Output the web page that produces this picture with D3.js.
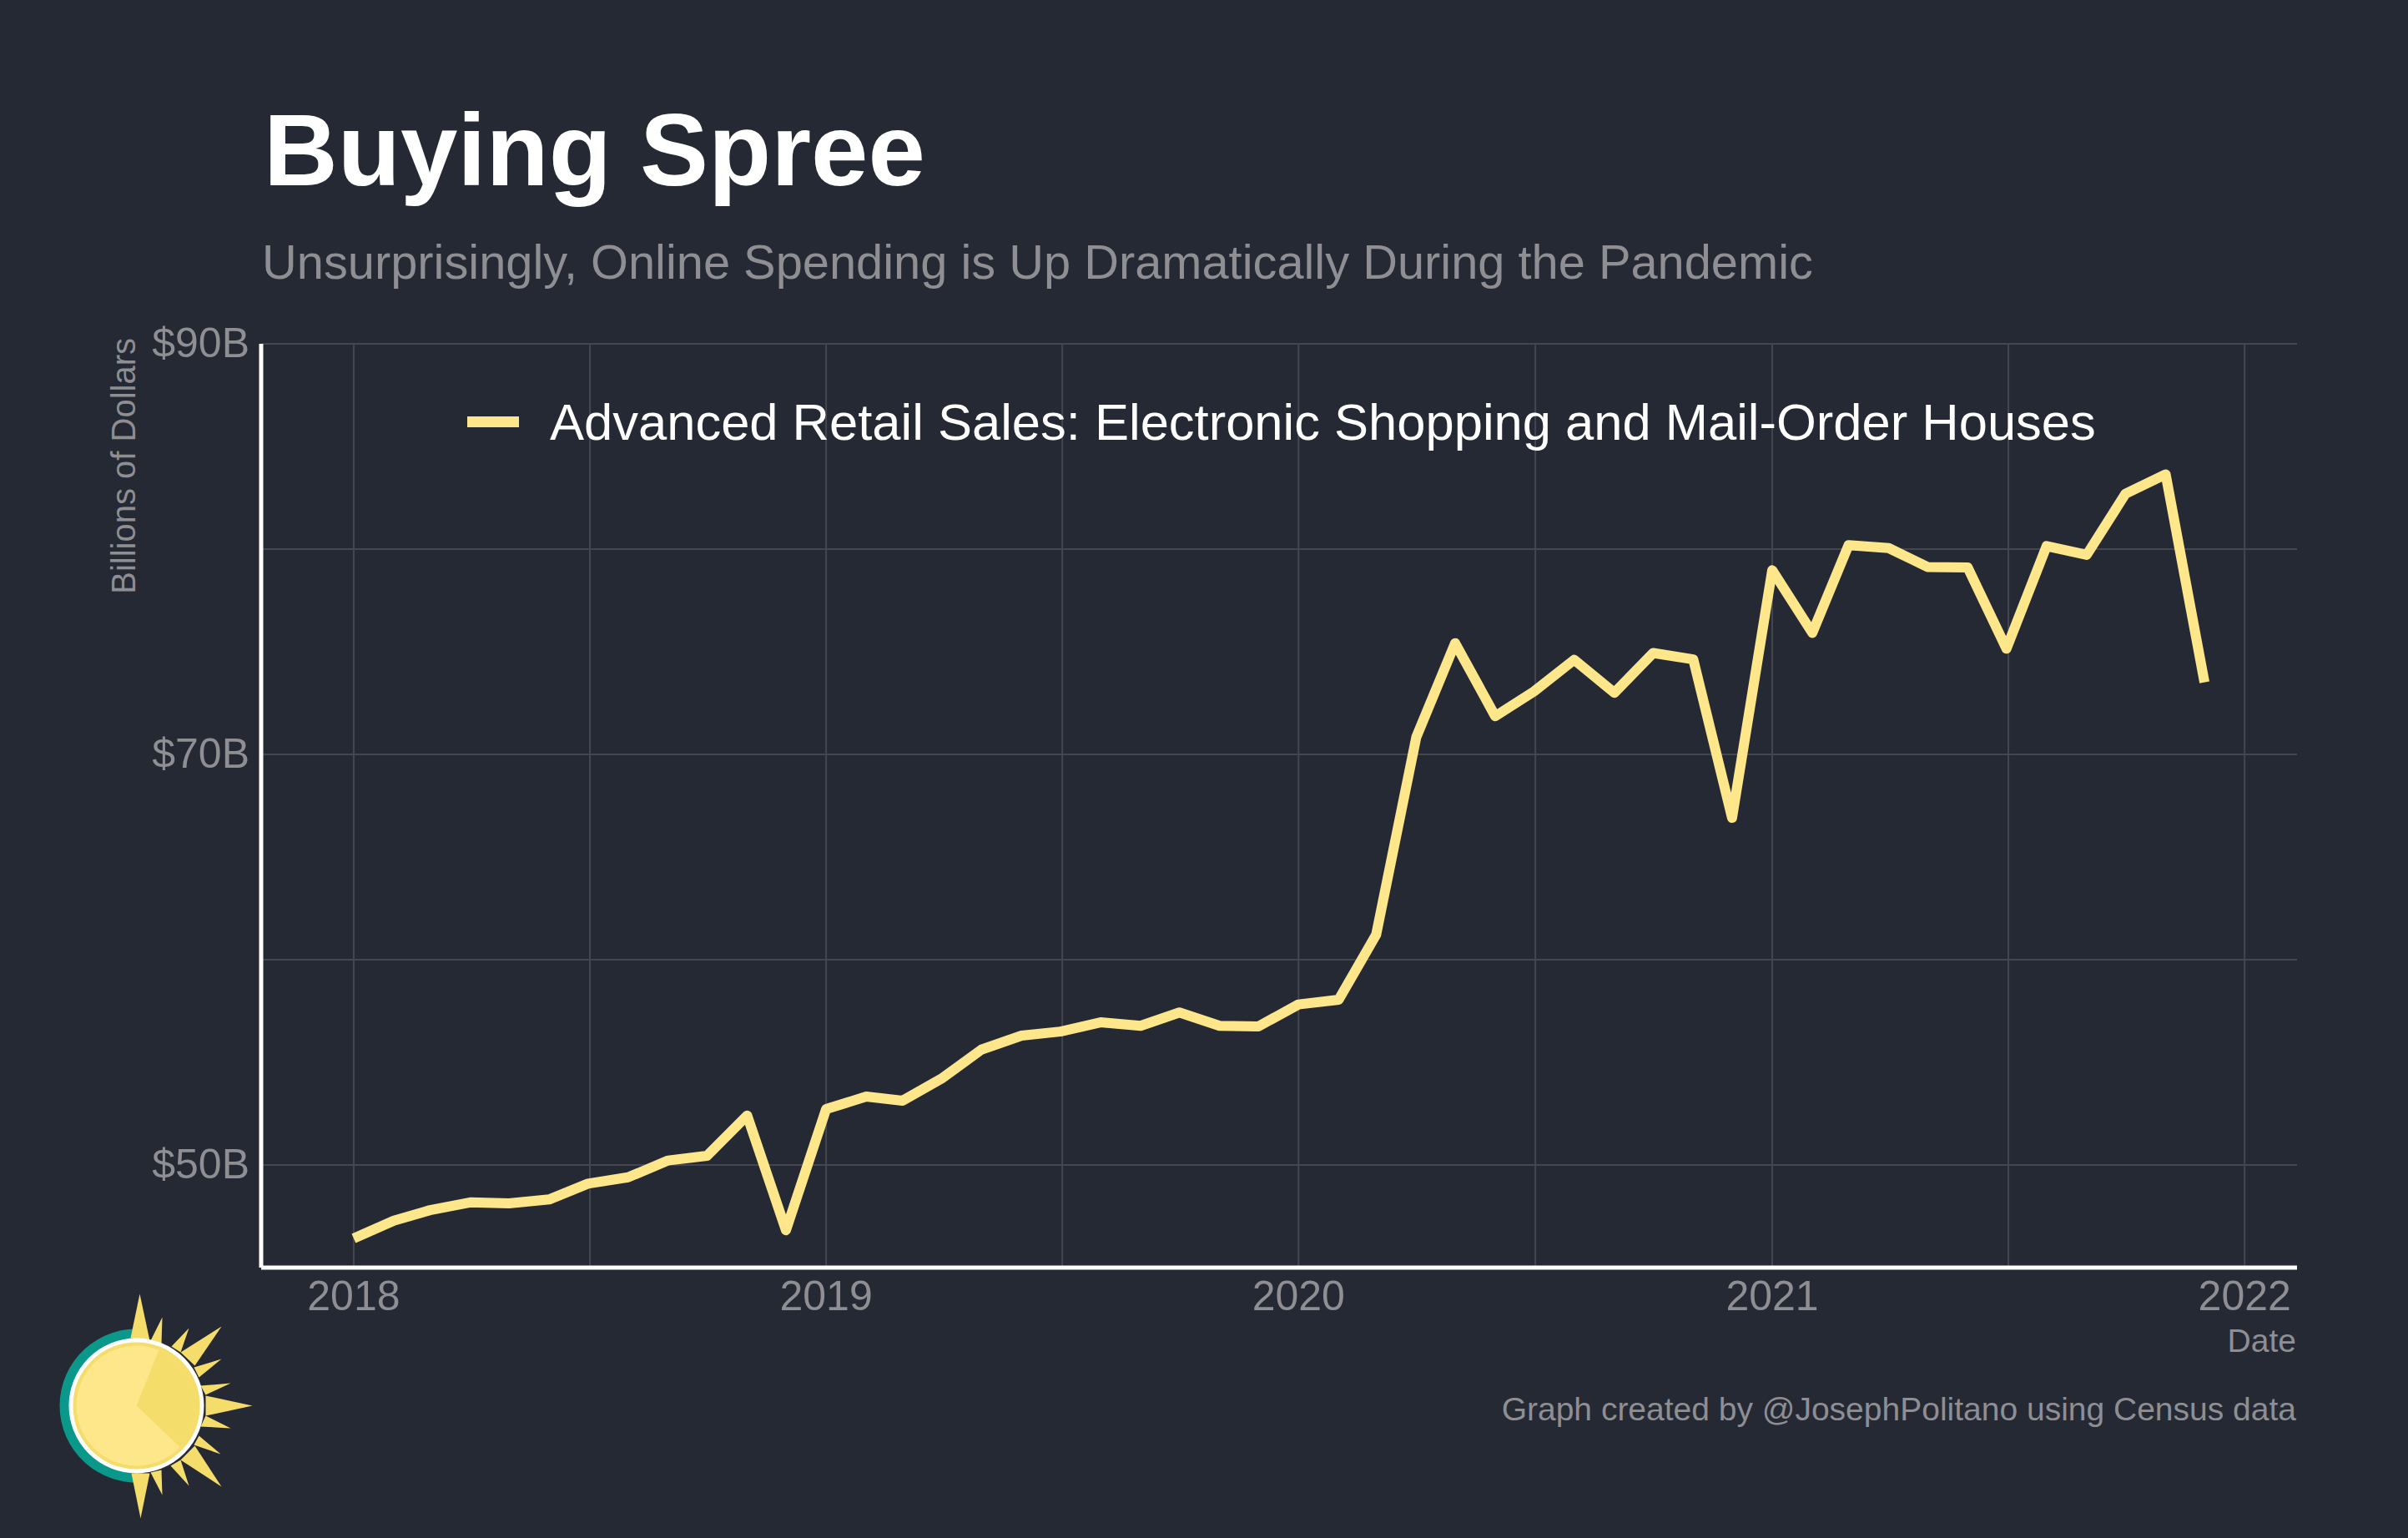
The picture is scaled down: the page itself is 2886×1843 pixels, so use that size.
<!doctype html>
<html lang="en">
<head>
<meta charset="UTF-8">
<title>Buying Spree</title>
<script src="https://cdn.jsdelivr.net/npm/d3@7"></script>
<style>
    html, body { margin: 0; background: #252933; }
    svg { display: block; font-family: "Liberation Sans", Arial, sans-serif; }
</style>
</head>
<body>
<svg id="chart" width="2886" height="1843" viewBox="0 0 2886 1843"></svg>
<script>
const title = 'Buying Spree'
const subtitle = 'Unsurprisingly, Online Spending is Up Dramatically During the Pandemic'
const seriesName = 'Advanced Retail Sales: Electronic Shopping and Mail-Order Houses'
const yTitle = 'Billions of Dollars'
const xTitle = 'Date'
const caption = 'Graph created by @JosephPolitano using Census data'

// billions of dollars, monthly, Jan 2018 - Dec 2021
const sales2018 = [46.42, 47.29, 47.80, 48.18, 48.13, 48.32, 49.09, 49.40, 50.22, 50.45, 52.41, 46.82]
const sales2019 = [52.72, 53.33, 53.13, 54.24, 55.62, 56.30, 56.50, 56.95, 56.78, 57.43, 56.78, 56.75]
const sales2020 = [57.82, 58.05, 61.22, 70.84, 75.42, 71.86, 73.07, 74.61, 73.00, 74.94, 74.63, 66.91]
const sales2021 = [78.97, 75.92, 80.19, 80.05, 79.13, 79.11, 75.15, 80.15, 79.72, 82.70, 83.64, 73.51]
const sales = [...sales2018, ...sales2019, ...sales2020, ...sales2021]

const yearTicks = [2018, 2019, 2020, 2021, 2022]
const yLabelled = [50, 70, 90]
const yGrid = [50, 60, 70, 80, 90]

const colors = { bg: '#252933', grid: '#44474f', text: '#8e8e93', white: '#ffffff', line: '#fee78a', sun: '#f4dd6b', teal: '#0a988b' }
const plot = { left: 313, right: 2753, top: 412, bottom: 1519 }

const utc = (y, m) => new Date(Date.UTC(y, m, 1))
const months = d3.utcMonths(utc(2018, 0), utc(2022, 0))
const data = months.map((d, i) => ({ date: d, value: sales[i] }))

// 5% expansion either side of the data, same as the source plot
const span = months[months.length - 1] - months[0]
const x = d3.scaleUtc()
    .domain([new Date(+months[0] - span * 0.05), new Date(+months[months.length - 1] + span * 0.05)])
    .range([plot.left, plot.right])
const y = d3.scaleLinear().domain([45, 90]).range([plot.bottom, plot.top])

const svg = d3.select('#chart')
svg.append('rect').attr('width', 2886).attr('height', 1843).attr('fill', colors.bg)

const addText = (txt, px, py, size, fill, anchor = 'start', weight = 'normal') =>
    svg.append('text').attr('x', px).attr('y', py).attr('font-size', size)
        .attr('fill', fill).attr('text-anchor', anchor).attr('font-weight', weight).text(txt)

addText(title, 316, 222, 123, colors.white, 'start', 'bold')
addText(subtitle, 314, 334, 57.8, colors.text)

// gridlines
const yearDates = yearTicks.map(t => utc(t, 0))
const halfYears = d3.pairs(yearDates).map(([a, b]) => new Date((+a + +b) / 2))
const gridX = d3.axisBottom(x).offset(0).tickValues([...yearDates, ...halfYears])
    .tickSize(-(plot.bottom - plot.top)).tickSizeOuter(0).tickFormat('')
const gridY = d3.axisLeft(y).offset(0).tickValues(yGrid)
    .tickSize(-(plot.right - plot.left)).tickSizeOuter(0).tickFormat('')

for (const [axis, tx, ty] of [[gridX, 0, plot.bottom], [gridY, plot.left, 0]]) {
    const g = svg.append('g').attr('transform', `translate(${tx},${ty})`).call(axis)
    g.select('.domain').remove()
    g.selectAll('line').attr('stroke', colors.grid).attr('stroke-width', 2)
}

// axes and tick labels
const xAxis = svg.append('g').attr('transform', `translate(0,${plot.bottom})`)
    .call(d3.axisBottom(x).offset(0).tickValues(yearDates).tickSize(0).tickPadding(15).tickFormat(d3.utcFormat('%Y')))
const yAxis = svg.append('g').attr('transform', `translate(${plot.left},0)`)
    .call(d3.axisLeft(y).offset(0).tickValues(yLabelled).tickSize(0).tickPadding(14).tickFormat(d => `$${d}B`))

for (const g of [xAxis, yAxis]) {
    g.attr('font-family', null).attr('font-size', 50)
    g.select('.domain').attr('stroke', colors.white).attr('stroke-width', 5)
    g.selectAll('text').attr('fill', colors.text)
}

// series
const line = d3.line().x(d => x(d.date)).y(d => y(d.value))
svg.append('path').datum(data)
    .attr('d', line)
    .attr('fill', 'none')
    .attr('stroke', colors.line)
    .attr('stroke-width', 12)
    .attr('stroke-linejoin', 'round')

// legend
svg.append('rect').attr('x', 560).attr('y', 499).attr('width', 62).attr('height', 13).attr('fill', colors.line)
addText(seriesName, 659, 527, 61.5, colors.white)

// axis titles and caption
addText(xTitle, 2752, 1620, 39, colors.text, 'end')
addText(caption, 2752, 1702, 39, colors.text, 'end')
svg.append('text').attr('transform', 'translate(162,405) rotate(-90)')
    .attr('text-anchor', 'end').attr('font-size', 40).attr('fill', colors.text).text(yTitle)

// sun logo, offsets from its centre: [tip x, tip y, base1 x, base1 y, base2 x, base2 y]
const rays = [
    [4, -134, -7, -81, 16, -78], [31, -106, 17, -78, 30, -74], [63, -93, 42, -71, 53, -64],
    [102, -95, 53, -64, 70, -48], [102, -56, 69, -46, 75, -34], [113, -27, 77, -24, 83, -13],
    [139, 0, 83, -12, 83, 12], [113, 27, 83, 12, 77, 25], [101, 58, 75, 36, 69, 47],
    [102, 97, 70, 48, 53, 65], [63, 96, 53, 65, 41, 72], [31, 107, 30, 77, 17, 80],
    [5, 135, 16, 81, -6, 81]
]
const sun = svg.append('g').attr('transform', 'translate(163.5,1684.5)')
sun.append('path')
    .attr('d', d3.arc().innerRadius(0).outerRadius(92).startAngle(Math.PI * 0.97).endAngle(Math.PI * 2.03))
    .attr('fill', colors.teal)
sun.selectAll('polygon').data(rays).join('polygon')
    .attr('points', r => `${r[0]},${r[1]} ${r[2]},${r[3]} ${r[4]},${r[5]}`)
    .attr('fill', colors.sun)
sun.append('circle').attr('r', 78.5).attr('fill', colors.sun).attr('stroke', colors.white).attr('stroke-width', 5)
sun.append('circle').attr('r', 72).attr('fill', colors.line)
sun.append('path')
    .attr('d', d3.arc().innerRadius(0).outerRadius(72).startAngle(0.385).endAngle(2.33))
    .attr('fill', colors.sun)
</script>
</body>
</html>
